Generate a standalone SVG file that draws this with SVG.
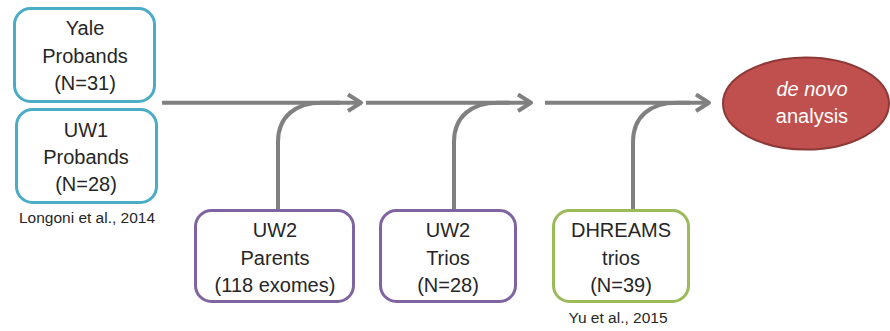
<svg xmlns="http://www.w3.org/2000/svg" width="890" height="331" viewBox="0 0 890 331">
<style>
.box{fill:#fff;stroke-width:3}
.blue{stroke:#4BACC6}
.purple{stroke:#8064A2}
.green{stroke:#9BBB59}
.t{font-family:"Liberation Sans",Arial,sans-serif;font-size:20px;fill:#262626;text-anchor:middle}
.ref{font-family:"Liberation Sans",Arial,sans-serif;font-size:15.5px;fill:#262626;text-anchor:middle}
.conn{fill:none;stroke:#808080;stroke-width:4;stroke-linejoin:round}
.w{font-family:"Liberation Sans",Arial,sans-serif;font-size:20px;fill:#fff;text-anchor:middle}
</style>
<rect width="890" height="331" fill="#fff"/>
<g id="connectors">
<path class="conn" d="M162,102.7 H360"/>
<path class="conn" d="M348,94.5 L361,102.7 L348,111"/>
<path class="conn" d="M278,209 V142 C278,116 296,102.7 322,102.7 H340"/>
<path class="conn" d="M366,102.7 H530"/>
<path class="conn" d="M518,94.5 L531,102.7 L518,111"/>
<path class="conn" d="M454,209 V142 C454,116 472,102.7 498,102.7 H510"/>
<path class="conn" d="M545,102.7 H708"/>
<path class="conn" d="M696,94.5 L709,102.7 L696,111"/>
<path class="conn" d="M633,209 V142 C633,116 651,102.7 677,102.7 H690"/>
</g>
<g id="yale">
<rect class="box blue" x="14.5" y="8.5" width="140" height="93" rx="16"/>
<text class="t" x="85" y="35">Yale</text>
<text class="t" x="85" y="63">Probands</text>
<text class="t" x="85" y="90">(N=31)</text>
</g>
<g id="uw1">
<rect class="box blue" x="16.5" y="109.5" width="140" height="93" rx="16"/>
<text class="t" x="86" y="137">UW1</text>
<text class="t" x="86" y="164">Probands</text>
<text class="t" x="86" y="191">(N=28)</text>
</g>
<g id="longoni">
<text class="ref" x="87" y="223">Longoni et al., 2014</text>
</g>
<g id="uw2parents">
<rect class="box purple" x="195.5" y="210.5" width="158" height="91" rx="16"/>
<text class="t" x="275" y="237">UW2</text>
<text class="t" x="275" y="265">Parents</text>
<text class="t" x="275" y="292">(118 exomes)</text>
</g>
<g id="uw2trios">
<rect class="box purple" x="380.5" y="210.5" width="135" height="91" rx="16"/>
<text class="t" x="448" y="237">UW2</text>
<text class="t" x="448" y="265">Trios</text>
<text class="t" x="448" y="292">(N=28)</text>
</g>
<g id="dhreams">
<rect class="box green" x="553.5" y="210.5" width="135" height="91" rx="16"/>
<text class="t" x="621" y="237">DHREAMS</text>
<text class="t" x="621" y="265">trios</text>
<text class="t" x="621" y="292">(N=39)</text>
</g>
<g id="yu">
<text class="ref" x="618" y="323">Yu et al., 2015</text>
</g>
<g id="denovo">
<ellipse cx="806" cy="103.5" rx="83" ry="46" fill="#C0504D" stroke="#8C3836" stroke-width="2"/>
<text class="w" x="812" y="96" font-style="italic">de novo</text>
<text class="w" x="812" y="123">analysis</text>
</g>
</svg>
